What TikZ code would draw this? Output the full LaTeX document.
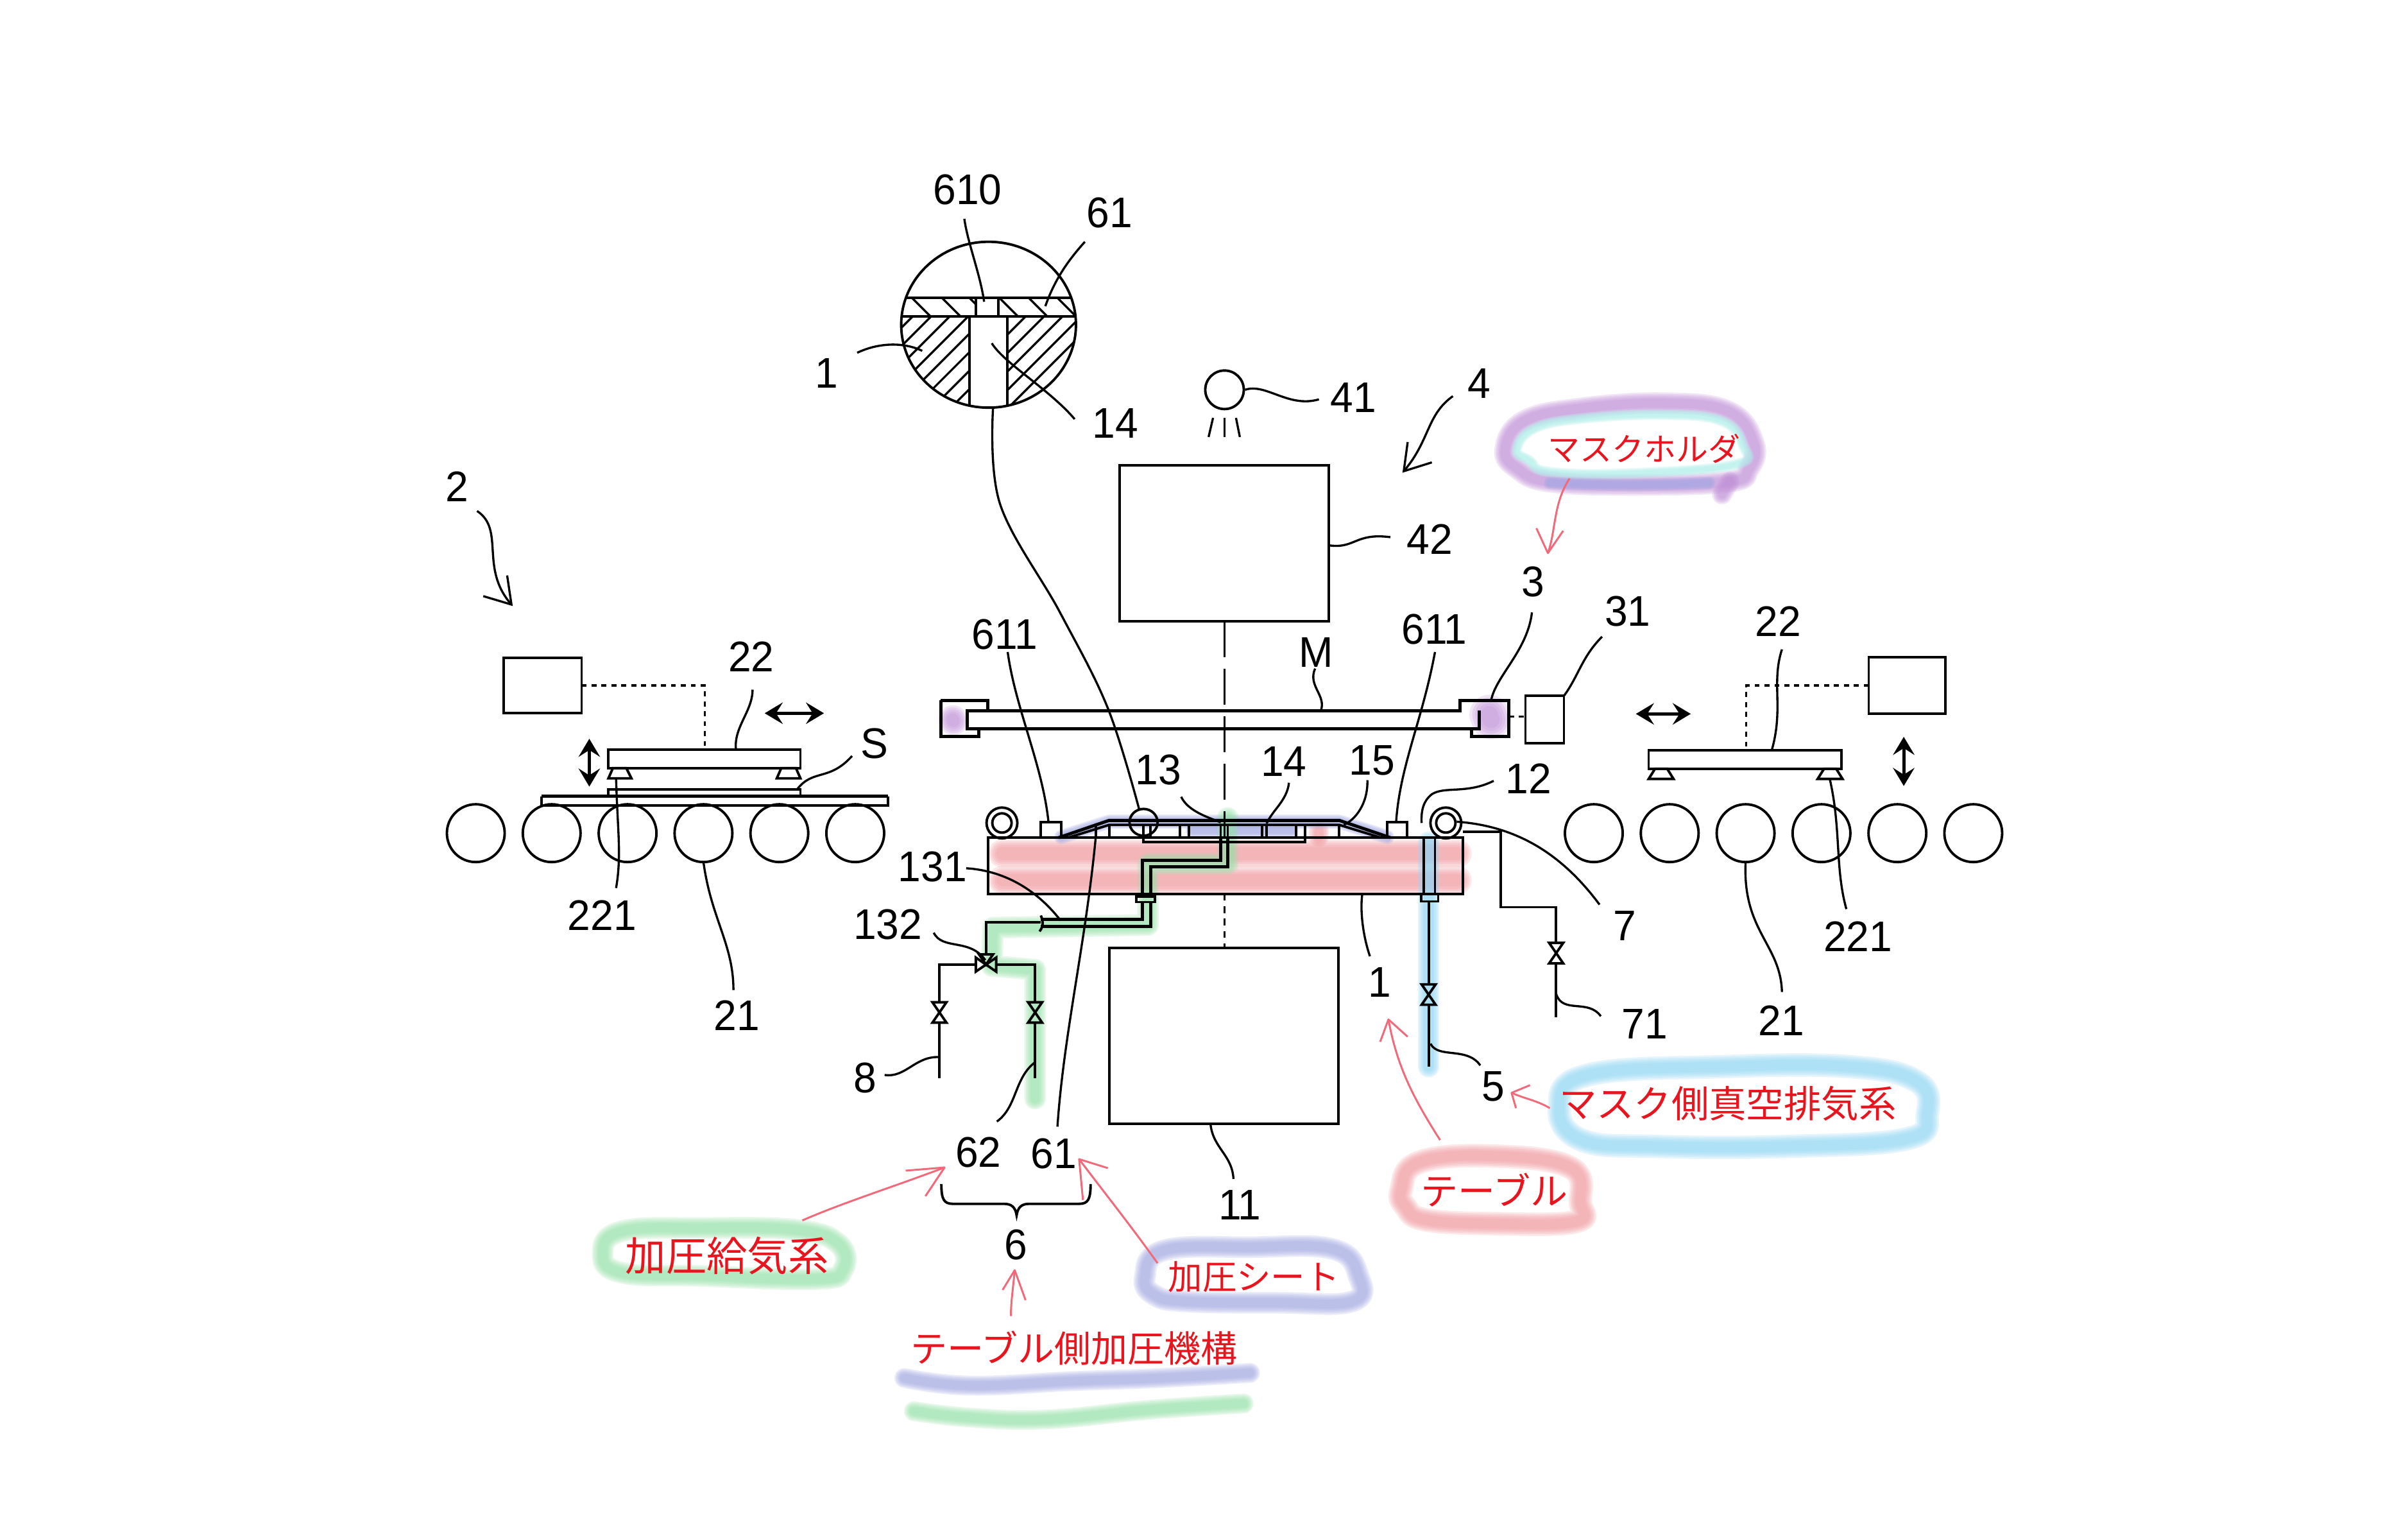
\documentclass[tikz,border=0pt]{standalone}
\usepackage{fontspec}
\usetikzlibrary{arrows.meta}
\newfontfamily\numf[FakeStretch=0.96]{Liberation Sans}
\newfontfamily\jpf{Noto Sans CJK JP}
\definecolor{redtx}{HTML}{E8141E}
\definecolor{redar}{HTML}{F06A7A}
\definecolor{mkpink}{HTML}{F29A9E}
\definecolor{mkblue}{HTML}{8FD6F4}
\definecolor{mkgreen}{HTML}{96E2A8}
\definecolor{mkviolet}{HTML}{A3A8E2}
\definecolor{mkpurple}{HTML}{C08FD8}
\definecolor{mkcyan}{HTML}{AFEFEA}
\newcommand{\mk}[3]{\foreach \f in {1.4,1.2,1,0.8,0.6}{\draw[color=#1,opacity=.22,line width=\f*#2*0.2845pt,line cap=round,line join=round] #3;}}
\newcommand{\valve}[2]{\draw[ln] (#1-11,#2-16) -- (#1+11,#2-16) -- (#1-11,#2+16) -- (#1+11,#2+16) -- cycle;}
\newcommand{\redarrow}[4]{\draw[redln] #1; \draw[redln] (#2) -- (#3) -- (#4);}
\tikzset{
  ln/.style={draw=black,line width=1.1pt,line join=miter},
  thick ln/.style={draw=black,line width=1.4pt},
  lead/.style={draw=black,line width=0.95pt},
  dotln/.style={draw=black,line width=1pt,dash pattern=on 2.2pt off 2.2pt},
  boxn/.style={draw=black,line width=1.1pt,inner sep=0pt,outer sep=0pt,fill=none},
  roller/.style={draw=black,line width=1.1pt,circle,minimum size=0.9cm,inner sep=0pt,outer sep=0pt},
  lbl/.style={font=\numf\fontsize{19}{20}\selectfont,inner sep=0pt,text=black},
  jp/.style={font=\jpf\fontsize{#1}{#1}\selectfont,inner sep=0pt,text=redtx},
  redln/.style={draw=redar,line width=0.85pt,line join=round},
  dbl/.style={{Stealth[length=8pt,width=9.5pt,inset=3pt]}-{Stealth[length=8pt,width=9.5pt,inset=3pt]},line width=1.4pt},
  barb/.style={-{Straight Barb[length=11pt,width=14pt]},line width=0.95pt}
}
\begin{document}
\begin{tikzpicture}[x=0.00994cm,y=-0.00994cm]
\useasboundingbox (0,0) rectangle (3775.65,2387.32);
\fill[white] (0,0) rectangle (3775.65,2387.32);
% ---------- marker highlights
\mk{mkpink}{32}{(1572,1338) -- (2285,1338)}
\mk{mkpink}{32}{(1572,1380) -- (2285,1380)}
\mk{mkpink}{22}{(2068,1303) -- (2068,1312)}
\mk{mkviolet}{16}{(1664,1312) -- (1739,1288) -- (2100,1288) -- (2175,1312)}
\mk{mkviolet}{16}{(1870,1302) -- (2025,1302)}
\mk{mkgreen}{24}{(1925,1282) -- (1925,1354) -- (1800,1354) -- (1800,1450) -- (1557,1454) -- (1555,1514) -- (1623,1520) -- (1623,1722)}
\mk{mkblue}{24}{(2240,1320) -- (2240,1672)}
\mk{mkpurple}{32}{(1494,1128) -- (1495,1130)}
\mk{mkpurple}{44}{(2335,1120) -- (2338,1128)}
\mk{mkpurple}{24}{plot[smooth cycle,tension=.7] coordinates {(2360,705) (2390,660) (2480,640) (2610,632) (2710,645) (2750,695) (2742,735) (2710,755) (2560,760) (2430,755) (2380,735)}}
\mk{mkcyan}{12}{plot[smooth cycle,tension=.7] coordinates {(2378,705) (2405,672) (2480,656) (2610,650) (2700,660) (2733,698) (2722,728) (2560,742) (2430,740) (2398,722)}}
\mk{mkviolet}{14}{plot[smooth,tension=.7] coordinates {(2430,757) (2560,760) (2680,757)}}
\mk{mkpurple}{22}{(2712,755) -- (2700,775)}
\mk{mkpink}{26}{plot[smooth cycle,tension=.7] coordinates {(2197,1865) (2225,1822) (2340,1812) (2462,1830) (2478,1885) (2470,1915) (2340,1918) (2235,1912) (2204,1892)}}
\mk{mkblue}{26}{plot[smooth cycle,tension=.7] coordinates {(2445,1735) (2490,1685) (2700,1672) (2900,1672) (3005,1695) (3022,1745) (2990,1785) (2800,1797) (2600,1797) (2480,1787)}}
\mk{mkgreen}{24}{plot[smooth cycle,tension=.7] coordinates {(945,1965) (975,1930) (1100,1925) (1250,1928) (1315,1950) (1322,1990) (1280,2005) (1100,2000) (975,1995)}}
\mk{mkviolet}{24}{plot[smooth cycle,tension=.7] coordinates {(1795,2002) (1825,1960) (1960,1955) (2090,1958) (2130,2000) (2120,2040) (2000,2042) (1860,2040) (1810,2030)}}
\mk{mkviolet}{22}{plot[smooth,tension=.7] coordinates {(1418,2160) (1520,2172) (1680,2165) (1820,2160) (1960,2152)}}
\mk{mkgreen}{22}{plot[smooth,tension=.7] coordinates {(1433,2212) (1520,2222) (1640,2225) (1800,2210) (1950,2200)}}
% ---------- detail circle
\begin{scope}[xshift=0.05cm]
\begin{scope}
\clip (1545,509) ellipse (137 and 130);
\begin{scope}
\clip (1400,496) rectangle (1515,660);
\foreach \c in {1922,1951,...,2160} \draw[lead] ({\c-480},480) -- ({\c-660},660);
\end{scope}
\begin{scope}
\clip (1574,496) rectangle (1690,660);
\foreach \c in {2070,2099,...,2335} \draw[lead] ({\c-480},480) -- ({\c-660},660);
\end{scope}
\begin{scope}
\clip (1400,467) rectangle (1690,496);
\foreach \c in {1425,1472,1515,1562,1608,1653} \draw[lead] (\c,467) -- ({\c+29},496);
\end{scope}
\fill[white] (1525,468) rectangle (1560,495);
\draw[ln] (1400,467) -- (1690,467);
\draw[thick ln] (1400,496) -- (1690,496);
\draw[ln] (1525,467) -- (1525,496);
\draw[ln] (1560,467) -- (1560,496);
\draw[ln] (1515,496) -- (1515,650);
\draw[ln] (1574,496) -- (1574,650);
\end{scope}
\draw[ln] (1545,509) ellipse (137 and 130);
\node[lbl] (n610) at (1512,297) {610};
\node[lbl] (n61a) at (1735,333) {61};
\node[lbl] (n1a) at (1291,585) {1};
\draw[lead] (1507,343) .. controls (1512,380) and (1532,430) .. (1538,473);
\draw[lead] (1696,379) .. controls (1668,410) and (1648,440) .. (1634,480);
\draw[lead] (1339,553) .. controls (1370,538) and (1410,535) .. (1441,550);
\draw[lead] (1680,657) .. controls (1640,610) and (1570,570) .. (1550,538);
\end{scope}
\node[lbl] (n14a) at (1749,663) {14};
\draw[lead] plot[smooth,tension=.6] coordinates {(1557,640) (1568,790) (1662,960) (1737,1110) (1786,1268)};
% ---------- lamp and box 42
\node[draw=black,line width=1.1pt,circle,minimum size=0.6cm,inner sep=0pt] (lamp) at (1920,611) {};
\draw[lead] (1902,655) -- (1895,685);
\draw[lead] (1920,655) -- (1920,685);
\draw[lead] (1938,655) -- (1944,685);
\node[lbl] (n41) at (2122,623) {41};
\draw[lead] (lamp.east) .. controls (1985,600) and (2020,640) .. (2068,626);
\node[boxn,minimum width=3.25cm,minimum height=2.43cm] (b42) at (1919.5,851.5) {};
\node[lbl] (n42) at (2242,845) {42};
\draw[lead] (2085,855) .. controls (2125,860) and (2125,835) .. (2180,842);
\node[lbl] (n4) at (2319,601) {4};
\draw[lead,barb] (2278,621) .. controls (2237,650) and (2242,690) .. (2199,741);
% ---------- mask and holders
\draw[thick ln] (1475,1098) -- (1549,1098) -- (1549,1114) -- (2289,1114) -- (2289,1098) -- (2366,1098) -- (2366,1154) -- (2307,1154) -- (2307,1142) -- (2319,1142) -- (2319,1114);
\draw[thick ln] (1475,1098) -- (1475,1154) -- (1535,1154) -- (1535,1142) -- (1517,1142) -- (1517,1114) -- (1549,1114);
\draw[thick ln] (1517,1142) -- (2319,1142);
\node[lbl] (nM) at (2064,1023) {M};
\draw[lead] (2062,1048) .. controls (2050,1075) and (2080,1090) .. (2071,1114);
\node[boxn,minimum width=0.6cm,minimum height=0.74cm] (b31) at (2422,1128) {};
\draw[dotln] (2366,1123) -- (2392,1123);
\node[lbl] (n3) at (2404,912) {3};
\node[lbl] (n31) at (2552,958) {31};
\draw[lead] (2402,960) .. controls (2395,1020) and (2345,1060) .. (2338,1098);
\draw[lead] (2512,998) .. controls (2480,1030) and (2475,1060) .. (2452,1091);
\draw[dbl] (2565,1119) -- (2651,1119);
% ---------- table
\draw[ln] (1549,1313) rectangle (2294,1401);
\node[draw=black,line width=1.1pt,circle,minimum size=0.48cm,inner sep=0pt] (rol1) at (1571,1290) {};
\node[draw=black,line width=1.1pt,circle,minimum size=0.3cm,inner sep=0pt] (rol1i) at (1571,1290) {};
\node[draw=black,line width=1.1pt,circle,minimum size=0.48cm,inner sep=0pt] (rol2) at (2267,1290) {};
\node[draw=black,line width=1.1pt,circle,minimum size=0.3cm,inner sep=0pt] (rol2i) at (2267,1290) {};
\draw[ln] (1632,1313) -- (1632,1289) -- (1664,1289) -- (1664,1313);
\draw[ln] (2175,1313) -- (2175,1289) -- (2206,1289) -- (2206,1313);
% sheet
\draw[thick ln] (1660,1313) -- (1739,1286) -- (2100,1286) -- (2180,1313);
\draw[ln] (1675,1313) -- (1739,1293) -- (2100,1293) -- (2165,1313);
% recess
\draw[ln] (1718,1293) -- (1718,1313);
\draw[ln] (1739,1293) -- (1739,1313);
\draw[ln] (2100,1293) -- (2100,1313);
\draw[ln] (1793,1293) -- (1793,1320) -- (2046,1320) -- (2046,1293);
\draw[ln] (1804,1293) -- (1804,1313) -- (1850,1313) -- (1850,1293);
\draw[ln] (1864,1293) -- (1864,1313) -- (1914,1313) -- (1914,1293);
\draw[ln] (1925,1293) -- (1925,1313) -- (1979,1313) -- (1979,1293);
\draw[ln] (1986,1293) -- (1986,1313) -- (2032,1313) -- (2032,1293);
% green pipe
\draw[thick ln] (1914,1313) -- (1914,1349) -- (1791,1349) -- (1791,1401);
\draw[thick ln] (1925,1313) -- (1925,1359) -- (1804,1359) -- (1804,1401);
\draw[ln] (1782,1405) rectangle (1811,1414);
\draw[thick ln] (1791,1414) -- (1791,1441) -- (1632,1441);
\draw[thick ln] (1804,1414) -- (1804,1452) -- (1632,1452);
\draw[ln] (1632,1435) .. controls (1636,1445) and (1636,1452) .. (1630,1460);
\draw[ln] (1632,1446) -- (1546,1446) -- (1546,1496);
% three way valve at 1546,1512
\draw[ln] (1535,1496) -- (1557,1496) -- (1546,1512) -- cycle;
\draw[ln] (1530,1501) -- (1530,1523) -- (1546,1512) -- cycle;
\draw[ln] (1562,1501) -- (1562,1523) -- (1546,1512) -- cycle;
\draw[ln] (1530,1512) -- (1473,1512) -- (1473,1571);
\draw[ln] (1562,1512) -- (1623,1512) -- (1623,1571);
\valve{1473}{1587}
\valve{1623}{1587}
\draw[ln] (1473,1603) -- (1473,1690);
\draw[ln] (1623,1603) -- (1623,1690);
% blue pipe
\draw[ln] (2232,1313) -- (2232,1401);
\draw[ln] (2250,1313) -- (2250,1401);
\draw[ln] (2228,1401) rectangle (2255,1413);
\draw[ln] (2240,1413) -- (2240,1543);
\valve{2240}{1559}
\draw[ln] (2240,1575) -- (2240,1672);
% pipe 7
\draw[ln] (2294,1304) -- (2353,1304) -- (2353,1422) -- (2440,1422) -- (2440,1478);
\valve{2440}{1494}
\draw[ln] (2440,1510) -- (2440,1595);
% small circle
\draw[ln] (1793,1289) ellipse (22 and 21);
% axis
\draw[ln,dash pattern=on 16pt off 5pt] (1920,974) -- (1920,1313);
\draw[ln,dash pattern=on 3pt off 2.5pt] (1920,1401) -- (1920,1487);
% box 11
\node[boxn,minimum width=3.56cm,minimum height=2.74cm] (b11) at (1919,1624) {};
\node[lbl] (n11) at (1944,1889) {11};
\draw[lead] (1898,1762) .. controls (1902,1800) and (1932,1810) .. (1934,1848);
% table labels
\node[lbl] (n611a) at (1575,994) {611};
\node[lbl] (n611b) at (2249,986) {611};
\node[lbl] (n13) at (1816,1207) {13};
\node[lbl] (n14b) at (2013,1194) {14};
\node[lbl] (n15) at (2151,1192) {15};
\node[lbl] (n12) at (2397,1220) {12};
\node[lbl] (n131) at (1462,1359) {131};
\node[lbl] (n132) at (1392,1449) {132};
\node[lbl] (n1b) at (2163,1540) {1};
\node[lbl] (n5) at (2341,1703) {5};
\node[lbl] (n7) at (2548,1451) {7};
\node[lbl] (n71) at (2579,1605) {71};
\node[lbl] (n8) at (1356,1690) {8};
\node[lbl] (n62) at (1534,1806) {62};
\node[lbl] (n61b) at (1652,1808) {61};
\node[lbl] (n6) at (1593,1951) {6};
\draw[lead] (1580,1022) .. controls (1592,1110) and (1635,1200) .. (1644,1289);
\draw[lead] (2250,1022) .. controls (2230,1130) and (2195,1200) .. (2189,1289);
\draw[lead] (1852,1249) .. controls (1862,1270) and (1890,1280) .. (1914,1289);
\draw[lead] (2021,1227) .. controls (2018,1255) and (1995,1270) .. (1986,1291);
\draw[lead] (2144,1223) .. controls (2145,1260) and (2125,1285) .. (2107,1293);
\draw[lead] (2342,1224) .. controls (2300,1245) and (2265,1232) .. (2245,1245) .. controls (2232,1255) and (2228,1270) .. (2229,1290);
\draw[lead] (1515,1361) .. controls (1580,1365) and (1630,1400) .. (1663,1443);
\draw[lead] (1464,1462) .. controls (1478,1490) and (1520,1470) .. (1545,1505);
\draw[lead] (2136,1401) .. controls (2132,1430) and (2138,1470) .. (2148,1499);
\draw[lead] (2243,1636) .. controls (2255,1660) and (2300,1640) .. (2321,1670);
\draw[lead] (2284,1288) .. controls (2380,1295) and (2450,1340) .. (2508,1418);
\draw[lead] (2440,1558) .. controls (2450,1590) and (2490,1565) .. (2510,1593);
\draw[lead] (1387,1685) .. controls (1420,1690) and (1435,1655) .. (1473,1657);
\draw[lead] (1623,1665) .. controls (1590,1690) and (1595,1735) .. (1563,1758);
\draw[lead] (1718,1313) .. controls (1702,1480) and (1668,1620) .. (1658,1766);
\draw[ln] (1476,1856) .. controls (1476,1880) and (1480,1887) .. (1494,1887) -- (1574,1887) .. controls (1586,1887) and (1592,1892) .. (1594,1905) .. controls (1596,1892) and (1602,1887) .. (1614,1887) -- (1692,1887) .. controls (1706,1887) and (1710,1880) .. (1710,1856);
% ---------- left station
\node[lbl] (n2) at (717,763) {2};
\draw[lead,barb] (748,801) .. controls (792,830) and (752,890) .. (804,950);
\node[boxn,minimum width=1.21cm,minimum height=0.86cm] (bl) at (851,1074.5) {};
\draw[dotln] (bl.east) -- (1105,1074.5) -- (1105,1175);
\draw[ln] (954,1175) rectangle (1255,1204);
\draw[ln] (954,1220) -- (990,1220) -- (982,1204) -- (961,1204) -- cycle;
\draw[ln] (1218,1220) -- (1255,1220) -- (1248,1204) -- (1225,1204) -- cycle;
\draw[ln] (954,1237) rectangle (1255,1248);
\draw[thick ln] (849,1248) -- (1392,1248);
\draw[ln] (849,1248) -- (849,1263) -- (1392,1263) -- (1392,1248);
\foreach \i/\x in {1/746,2/865,3/984,4/1103,5/1222,6/1341} \node[roller] (rl\i) at (\x,1306) {};
\draw[dbl] (1199,1118) -- (1292,1118);
\draw[dbl] (924,1158) -- (924,1233);
\node[lbl] (n22a) at (1178,1029) {22};
\node[lbl] (nS) at (1371,1165) {S};
\node[lbl] (n221a) at (944,1435) {221};
\node[lbl] (n21a) at (1155,1592) {21};
\draw[lead] (1180,1081) .. controls (1180,1115) and (1150,1140) .. (1154,1175);
\draw[lead] (1336,1185) .. controls (1300,1225) and (1275,1205) .. (1250,1237);
\draw[lead] (966,1220) .. controls (968,1300) and (975,1340) .. (966,1392);
\draw[lead] (rl4.south) .. controls (1115,1440) and (1150,1480) .. (1150,1552);
% ---------- right station
\node[boxn,minimum width=1.19cm,minimum height=0.88cm] (br) at (2990,1074.5) {};
\draw[dotln] (br.west) -- (2738,1074.5) -- (2738,1176);
\draw[ln] (2585,1176) rectangle (2887,1205);
\draw[ln] (2585,1221) -- (2624,1221) -- (2614,1205) -- (2595,1205) -- cycle;
\draw[ln] (2850,1221) -- (2889,1221) -- (2879,1205) -- (2860,1205) -- cycle;
\foreach \i/\x in {1/2499,2/2618,3/2737,4/2856,5/2975,6/3094} \node[roller] (rr\i) at (\x,1306) {};
\draw[dbl] (2985,1155) -- (2985,1232);
\node[lbl] (n22b) at (2788,974) {22};
\node[lbl] (n221b) at (2913,1468) {221};
\node[lbl] (n21b) at (2793,1600) {21};
\draw[lead] (2794,1018) .. controls (2777,1070) and (2797,1110) .. (2778,1176);
\draw[lead] (2869,1221) .. controls (2887,1300) and (2877,1360) .. (2895,1425);
\draw[lead] (rr3.south) .. controls (2732,1460) and (2792,1480) .. (2794,1555);
% ---------- red annotations
\node[jp=14.2] (tMH) at (2578,703) {マスクホルダ};
\node[jp=16.5] (tTb) at (2343,1865) {テーブル};
\node[jp=16.6] (tMV) at (2709,1730) {マスク側真空排気系};
\node[jp=18] (tKK) at (1140,1968) {加圧給気系};
\node[jp=15.2] (tKS) at (1966,2002) {加圧シート};
\node[jp=16.2] (tTK) at (1684,2113) {テーブル側加圧機構};
\redarrow{(2461,750) .. controls (2435,790) and (2440,830) .. (2427,867)}{2409,828}{2427,867}{2451,832}
\redarrow{(2258,1787) .. controls (2215,1720) and (2190,1670) .. (2177,1598)}{2164,1633}{2177,1598}{2207,1625}
\redarrow{(2430,1737) .. controls (2410,1725) and (2390,1722) .. (2370,1713)}{2399,1701}{2370,1713}{2377,1737}
\redarrow{(1258,1913) .. controls (1322,1885) and (1402,1860) .. (1481,1830)}{1420,1835}{1481,1830}{1451,1875}
\redarrow{(1815,1980) .. controls (1772,1920) and (1732,1870) .. (1692,1817)}{1737,1831}{1692,1817}{1698,1881}
\redarrow{(1585,2063) .. controls (1585,2040) and (1589,2015) .. (1591,1991)}{1572,2022}{1591,1991}{1608,2038}
\end{tikzpicture}
\end{document}
